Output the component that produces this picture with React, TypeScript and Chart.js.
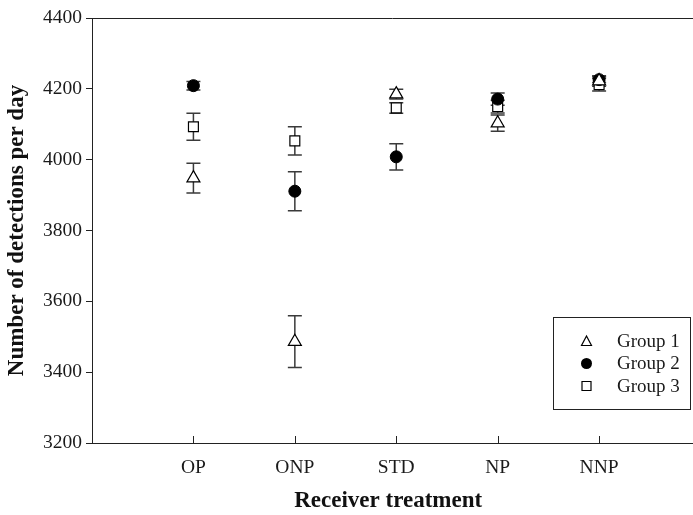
import React, { useEffect, useRef } from "react";
import { Chart, registerables } from "chart.js";

Chart.register(...registerables);

const categories = ["OP", "ONP", "STD", "NP", "NNP"];
const seriesNames = ["Group 1", "Group 2", "Group 3"];
const group1 = [3948, 3486, 4185, 4103, 4222];
const group1Err = [42, 73, 14, 23, 15];
const group2 = [4209, 3911, 4008, 4171, 4226];
const group2Err = [12, 55, 37, 17, 8];
const group3 = [4093, 4053, 4146, 4150, 4212];
const group3Err = [38, 40, 15, 18, 18];
const yTicks = [3200, 3400, 3600, 3800, 4000, 4200, 4400];

const FONT = "'Liberation Serif', 'Times New Roman', serif";

export default function App() {
  const ref = useRef<HTMLCanvasElement | null>(null);

  useEffect(() => {
    if (!ref.current) return;
    const errs = [group1Err, group2Err, group3Err];

    const errorBars = {
      id: "errorBars",
      beforeDatasetsDraw(chart: any) {
        const ctx = chart.ctx;
        const xs = chart.scales.x;
        const ys = chart.scales.y;
        ctx.save();
        ctx.strokeStyle = "#3a3a3a";
        ctx.lineWidth = 1.5;
        chart.data.datasets.forEach((ds: any, di: number) => {
          ds.data.forEach((p: any, i: number) => {
            const e = errs[di][i];
            const x = xs.getPixelForValue(p.x);
            const y1 = ys.getPixelForValue(p.y - e);
            const y2 = ys.getPixelForValue(p.y + e);
            ctx.beginPath();
            ctx.moveTo(x, y1);
            ctx.lineTo(x, y2);
            ctx.moveTo(x - 7, y1);
            ctx.lineTo(x + 7, y1);
            ctx.moveTo(x - 7, y2);
            ctx.lineTo(x + 7, y2);
            ctx.stroke();
          });
        });
        ctx.restore();
      },
      afterDraw(chart: any) {
        const ctx = chart.ctx;
        const a = chart.chartArea;
        const xs = chart.scales.x;
        ctx.save();
        ctx.strokeStyle = "#222";
        ctx.lineWidth = 1;
        ctx.beginPath();
        ctx.moveTo(a.left, a.top + 0.5);
        ctx.lineTo(chart.width, a.top + 0.5);
        ctx.stroke();
        ctx.beginPath();
        ctx.moveTo(a.left, a.bottom + 0.5);
        ctx.lineTo(chart.width, a.bottom + 0.5);
        ctx.stroke();
        categories.forEach((_, i) => {
          const x = Math.round(xs.getPixelForValue(i + 1)) + 0.5;
          ctx.beginPath();
          ctx.moveTo(x, a.bottom);
          ctx.lineTo(x, a.bottom - 7);
          ctx.stroke();
        });
        // legend
        const bx = 553, by = 317, bw = 137, bh = 92;
        ctx.fillStyle = "#fff";
        ctx.fillRect(bx, by, bw, bh);
        ctx.strokeStyle = "#222";
        ctx.strokeRect(bx + 0.5, by + 0.5, bw, bh);
        const rows = [341.5, 363.5, 386];
        ctx.font = `19px ${FONT}`;
        ctx.textBaseline = "middle";
        ctx.textAlign = "left";
        rows.forEach((ry, k) => {
          const mx = 586.5;
          ctx.lineWidth = 1.2;
          ctx.strokeStyle = "#000";
          ctx.beginPath();
          if (k === 0) {
            ctx.moveTo(mx, ry - 5.5);
            ctx.lineTo(mx + 5, ry + 4);
            ctx.lineTo(mx - 5, ry + 4);
            ctx.closePath();
            ctx.fillStyle = "#fff";
            ctx.fill();
            ctx.stroke();
          } else if (k === 1) {
            ctx.arc(mx, ry, 5.5, 0, Math.PI * 2);
            ctx.fillStyle = "#000";
            ctx.fill();
          } else {
            ctx.rect(mx - 4.5, ry - 4.5, 9, 9);
            ctx.fillStyle = "#fff";
            ctx.fill();
            ctx.stroke();
          }
          ctx.fillStyle = "#1a1a1a";
          ctx.fillText(seriesNames[k], 617, ry + 1);
        });
        ctx.restore();
      },
    };

    const mk = (vals: number[]) => vals.map((v, i) => ({ x: i + 1, y: v }));

    const chart = new Chart(ref.current, {
      type: "scatter",
      data: {
        datasets: [
          {
            label: seriesNames[0],
            data: mk(group1),
            pointStyle: "triangle",
            pointRadius: 7.5,
            backgroundColor: "#fff",
            borderColor: "#000",
            borderWidth: 1.2,
          },
          {
            label: seriesNames[1],
            data: mk(group2),
            pointStyle: "circle",
            pointRadius: 6,
            backgroundColor: "#000",
            borderColor: "#000",
            borderWidth: 1,
          },
          {
            label: seriesNames[2],
            data: mk(group3),
            pointStyle: "rect",
            pointRadius: 7,
            backgroundColor: "#fff",
            borderColor: "#000",
            borderWidth: 1.2,
          },
        ],
      },
      options: {
        responsive: false,
        animation: false,
        layout: { padding: { top: 18, right: 0, left: 0, bottom: 0 } },
        plugins: {
          legend: { display: false },
          tooltip: { enabled: false },
        },
        scales: {
          x: {
            type: "linear",
            min: 0,
            max: 5.84,
            afterFit: (s: any) => {
              s.height = 72;
            },
            afterBuildTicks: (s: any) => {
              s.ticks = categories.map((_, i) => ({ value: i + 1 }));
            },
            ticks: {
              callback: (v: any) => categories[Number(v) - 1] ?? "",
              color: "#1a1a1a",
              font: { family: FONT, size: 19.5 },
              padding: 13,
              maxRotation: 0,
              autoSkip: false,
            },
            grid: { display: false, drawTicks: false },
            border: { display: true, color: "#222", width: 1 },
            title: {
              display: true,
              text: "Receiver treatment",
              color: "#111",
              font: { family: FONT, size: 23, weight: "bold" },
              padding: { top: 12, bottom: 0 },
            },
          },
          y: {
            min: 3200,
            max: 4400,
            afterFit: (s: any) => {
              s.width = 92;
            },
            afterBuildTicks: (s: any) => {
              s.ticks = yTicks.map((v) => ({ value: v }));
            },
            ticks: {
              callback: (v: any) => String(v),
              color: "#1a1a1a",
              font: { family: FONT, size: 19.5 },
              padding: 4,
            },
            grid: {
              drawOnChartArea: false,
              drawTicks: true,
              tickLength: 6,
              color: "#222",
            },
            border: { display: true, color: "#222", width: 1 },
            title: {
              display: true,
              text: "Number of detections per day",
              color: "#111",
              font: { family: FONT, size: 23, weight: "bold" },
              padding: { top: 3, bottom: 0 },
            },
          },
        },
      },
      plugins: [errorBars],
    });
    return () => chart.destroy();
  }, []);

  return (
    <div style={{ position: "fixed", left: 0, top: 0, width: 693, height: 515, background: "#fff" }}>
      <canvas ref={ref} width={693} height={515} />
    </div>
  );
}
